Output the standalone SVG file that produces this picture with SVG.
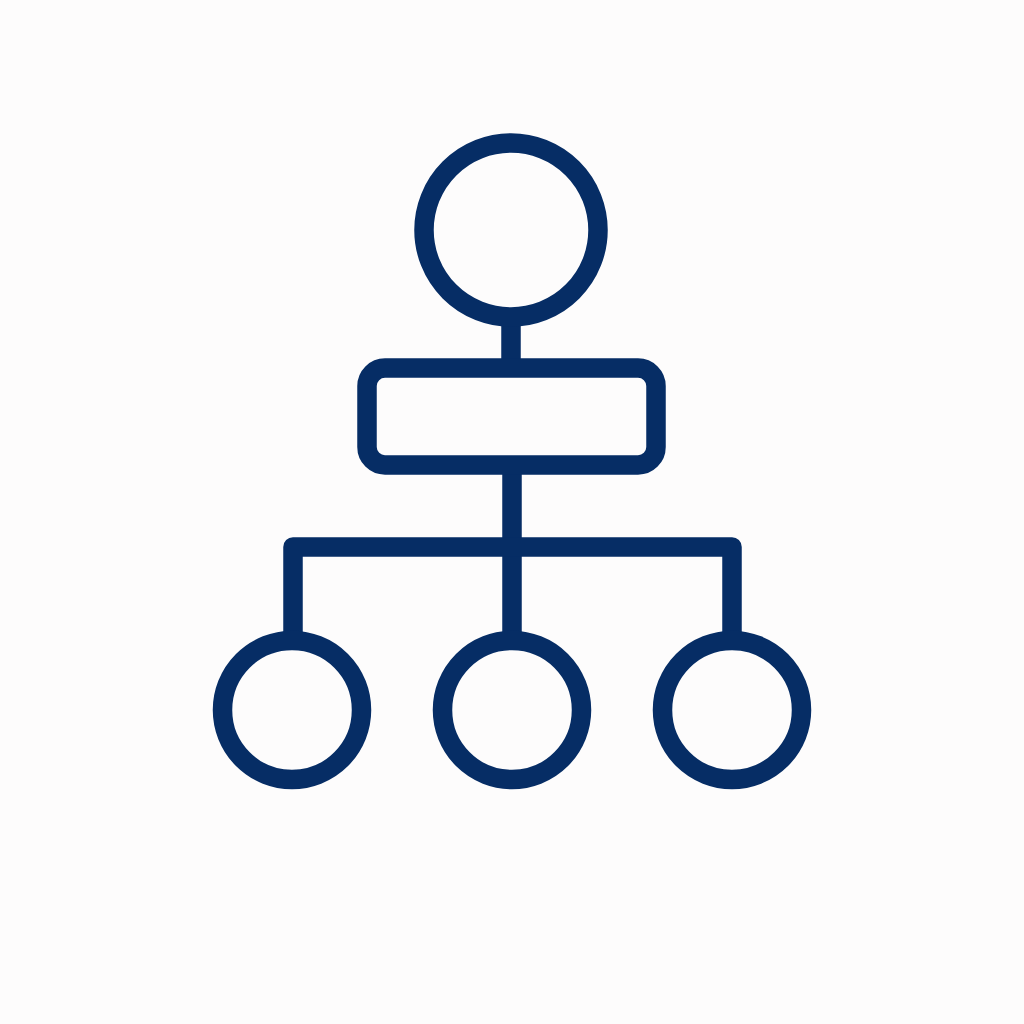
<svg xmlns="http://www.w3.org/2000/svg" width="1024" height="1024" viewBox="0 0 1024 1024">
<style>
.s{fill:none;stroke:#062d65;stroke-width:19.5;stroke-linejoin:round}
</style>
<rect width="1024" height="1024" fill="#fdfcfc"/>
<g id="connectors" class="s">
<line x1="511" y1="326" x2="511" y2="359"/>
<line x1="512" y1="474" x2="512" y2="632"/>
<polyline points="293,632 293,547 732,547 732,632"/>
</g>
<g id="root" class="s"><circle cx="511" cy="230" r="87"/></g>
<g id="middle" class="s"><rect x="367" y="368" width="289" height="97" rx="18"/></g>
<g id="leaf1" class="s"><circle cx="292" cy="710" r="69.5"/></g>
<g id="leaf2" class="s"><circle cx="512" cy="710" r="69.5"/></g>
<g id="leaf3" class="s"><circle cx="732" cy="710" r="69.5"/></g>
</svg>
